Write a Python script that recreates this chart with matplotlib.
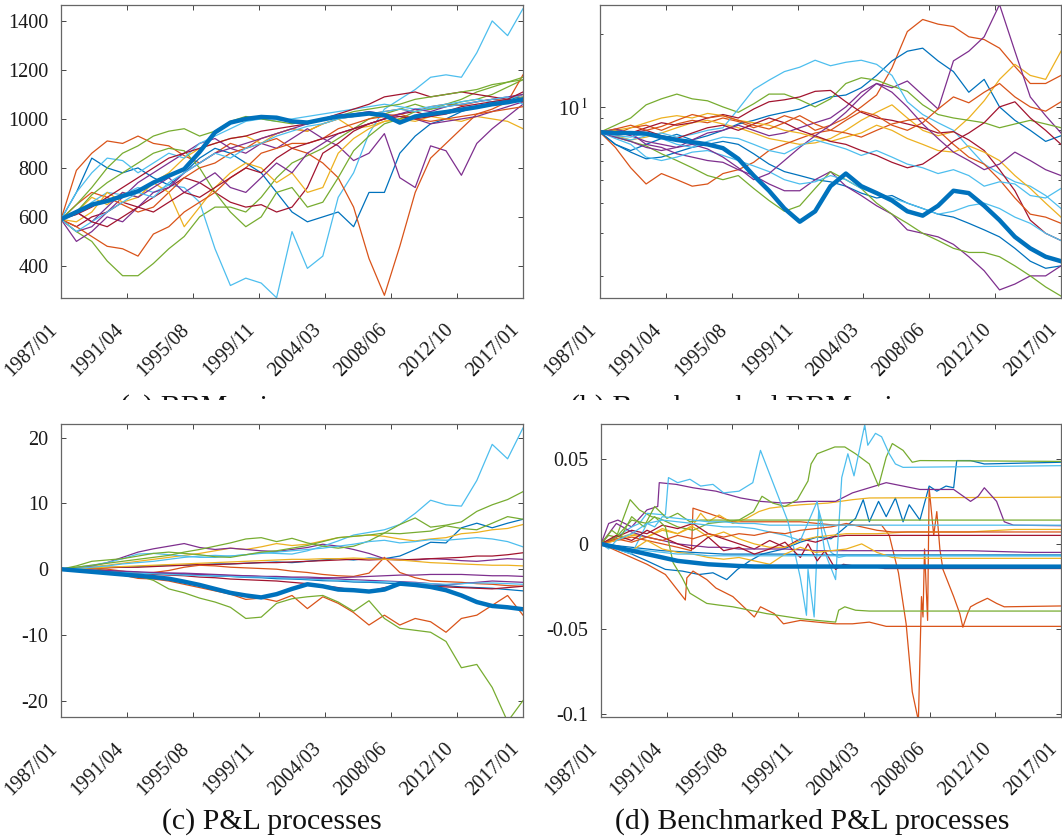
import matplotlib
matplotlib.use('Agg')
import matplotlib.pyplot as plt
from matplotlib.patches import Rectangle
from matplotlib.ticker import FixedLocator, FixedFormatter, NullFormatter
import numpy as np

plt.rcParams['font.family'] = ['Liberation Serif', 'DejaVu Serif']
plt.rcParams['mathtext.fontset'] = 'stix'
plt.rcParams['axes.unicode_minus'] = False

# ---------------- data ----------------
years = list(range(31))  # 1987/01 ... 2017/01, yearly samples
tick_labels = ['1987/01', '1991/04', '1995/08', '1999/11', '2004/03', '2008/06', '2012/10', '2017/01']

BLUE = '#0072BD'; ORANGE = '#D95319'; YELLOW = '#EDB120'; PURPLE = '#7E2F8E'
GREEN = '#77AC30'; LBLUE = '#4DBEEE'; DRED = '#A2142F'

# (a) BBM prices
a_thick = [590,620,650,665,685,705,740,768,795,865,945,985,1000,1008,1005,990,985,998,1010,1015,1022,1015,985,1010,1020,1028,1038,1048,1060,1068,1080]
a_lblue_dip = [590,610,660,700,690,720,700,730,720,660,470,320,350,330,270,540,390,440,680,780,940,1040,1080,1120,1170,1180,1170,1270,1400,1340,1450]
a_orange_dip = [590,650,700,680,650,620,640,700,760,800,820,860,880,900,920,880,860,820,760,640,430,280,480,700,840,900,960,1020,1040,1070,1180]
a_orange_top = [590,790,860,910,900,930,900,890,850,820,860,900,880,920,940,960,950,980,1000,1010,1020,1030,1040,1030,1050,1060,1055,1070,1080,1075,1100]
a_blue_dip = [590,700,840,800,780,800,760,730,780,840,880,860,820,780,700,620,580,600,620,560,700,700,860,930,980,1000,1030,1050,1060,1080,1090]
a_purple_dip = [590,540,560,620,680,740,780,820,860,900,920,880,860,900,880,920,960,920,890,830,860,940,760,720,890,870,770,900,960,1010,1060]
a_green_low = [590,540,500,420,360,360,410,470,520,600,640,640,620,680,760,820,850,880,920,960,1000,1020,1040,1060,1040,1050,1070,1080,1100,1130,1160]
a_green_mid = [590,620,690,740,780,820,860,880,870,800,700,620,560,600,700,720,640,660,760,870,930,980,1000,1030,1040,1060,1080,1110,1130,1150,1170]
a_green_top = [590,650,720,800,860,890,930,950,960,930,950,990,1010,1000,990,980,990,1000,1010,1030,1040,1050,1060,1080,1090,1100,1110,1120,1140,1150,1160]
a_dred_low = [590,560,600,620,660,640,680,720,760,740,700,660,640,650,620,640,720,860,900,950,980,1000,1020,1030,1010,1020,1040,1050,1060,1070,1080]
a_dred_top = [590,610,640,680,720,760,800,840,860,880,900,920,930,950,960,970,980,1000,1020,1040,1060,1090,1100,1110,1090,1100,1110,1100,1090,1080,1070]
a_dred_mid = [590,620,580,560,600,640,620,660,700,680,720,760,800,780,840,880,900,920,940,960,980,1000,1010,1000,1010,1030,1050,1060,1070,1080,1110]
a_yellow_top = [590,620,680,650,700,680,740,780,840,880,900,920,930,900,940,960,950,980,1000,960,970,990,1000,990,1010,1000,990,1010,1000,990,960]
a_yellow_low = [590,580,620,700,660,680,740,700,560,640,720,780,820,800,740,780,700,720,860,920,960,990,1000,1010,1020,1030,1040,1050,1060,1070,1090]
a_lblue_top = [590,700,780,840,830,780,820,860,840,900,930,960,990,1000,990,1000,1010,1020,1030,1040,1050,1060,1050,1040,1050,1060,1070,1080,1070,1080,1100]
a_lblue_low = [590,540,580,620,660,700,680,740,780,820,860,840,880,900,930,950,970,980,1000,1010,1020,1030,1040,1030,1045,1050,1060,1070,1080,1090,1060]
a_orange_low = [590,560,520,480,470,440,530,560,620,660,700,760,800,860,880,900,900,920,960,980,1000,1010,1020,1000,990,1000,1010,1020,1030,1040,1050]
a_purple_low = [590,500,540,600,580,640,700,720,780,820,860,880,900,920,940,960,980,1000,1010,1020,1030,1020,1010,1000,980,990,1000,1010,1030,1050,1070]
a_purple_mid = [590,620,580,640,700,680,720,760,700,740,780,720,700,760,820,780,860,900,940,960,980,1000,1020,1040,1030,1050,1060,1070,1080,1090,1100]

# (b) Benchmarked BBM prices
b_thick = [7.86,7.8,7.8,7.75,7.5,7.3,7.15,7.0,6.75,6.1,5.2,4.5,3.8,3.35,3.7,4.7,5.3,4.7,4.4,4.1,3.7,3.55,3.9,4.5,4.4,3.9,3.4,2.9,2.6,2.4,2.3]
b_lblue_top = [7.86,7.5,7.3,7.6,7.8,7.5,7.7,8.0,8.2,9.8,11.8,12.9,14.0,14.6,15.6,14.8,15.3,15.6,15.0,13.5,10.5,9.3,8.6,8.0,6.8,5.8,5.3,4.9,4.7,4.3,3.8]
b_orange_top = [7.86,7.7,8.2,8.4,8.0,8.5,8.8,8.6,9.0,8.7,8.2,8.6,9.2,8.8,8.0,8.4,9.0,10.0,11.2,14.5,20.5,23.0,22.0,21.5,19.5,19.0,17.5,14.7,12.5,12.5,13.5]
b_purple_top = [7.86,7.9,7.6,7.2,7.0,6.8,7.3,7.8,8.0,8.4,8.0,7.6,7.8,8.2,8.6,9.0,10.0,11.5,12.5,12.0,12.8,11.2,9.8,15.5,17.0,19.5,26.5,17.0,11.0,9.2,7.8]
b_blue_top = [7.86,7.0,6.6,7.0,7.4,7.7,7.3,7.6,8.0,8.5,8.8,9.2,9.5,9.8,10.4,11.0,11.2,12.0,13.5,15.5,17.0,17.5,15.5,14.0,11.5,13.0,10.0,8.8,8.0,7.2,7.6]
b_orange_low = [7.86,6.8,5.6,4.8,5.3,5.0,4.7,4.8,5.3,5.5,5.9,6.6,7.0,7.4,7.8,8.0,7.8,7.5,8.0,8.5,8.8,9.0,8.0,7.0,6.2,5.8,5.0,4.2,3.6,3.5,3.3]
b_purple_low = [7.86,8.1,7.8,7.0,6.8,6.4,6.2,6.0,5.9,5.5,5.2,4.8,4.5,4.5,5.0,5.4,4.7,4.3,3.9,3.6,3.1,3.0,2.9,2.7,2.4,2.1,1.75,1.85,2.0,2.0,2.2]
b_green_low = [7.86,7.5,7.2,6.9,6.4,6.0,5.6,5.2,5.0,5.2,4.6,4.1,3.7,3.9,4.6,5.4,5.0,4.6,4.0,3.6,3.3,3.0,2.8,2.6,2.5,2.5,2.4,2.2,2.0,1.8,1.65]
b_green_top = [7.86,8.4,9.0,10.2,10.8,11.3,10.8,10.6,10.0,9.5,10.3,11.3,11.3,10.7,10.0,10.8,12.5,13.2,12.9,12.2,11.6,10.2,9.3,9.0,8.8,8.6,8.2,8.5,8.8,8.5,8.2]
b_dred_1 = [7.86,8.0,7.8,8.2,8.6,8.4,8.6,9.0,9.3,9.0,9.8,10.5,10.7,11.0,11.6,11.7,10.5,9.5,9.0,8.8,8.5,8.2,7.8,7.9,7.3,6.6,5.5,4.5,3.4,3.0,2.8]
b_dred_2 = [7.86,7.6,7.8,8.0,7.6,7.4,7.8,8.2,8.4,8.0,8.5,9.0,8.6,8.0,7.6,7.2,7.0,6.6,6.3,5.9,5.6,5.8,6.4,7.2,7.8,8.6,10.0,10.5,9.0,8.0,7.0]
b_yellow_top = [7.86,7.6,7.3,7.5,7.8,8.2,8.6,8.8,8.5,8.2,7.8,7.4,7.2,7.0,7.1,7.4,8.0,8.8,9.5,10.2,9.0,8.0,7.6,7.9,9.0,10.6,13.0,15.0,13.5,13.0,17.0]
b_yellow_low = [7.86,8.0,8.2,8.6,9.0,9.2,9.0,9.4,9.2,8.8,8.6,8.4,8.0,7.8,7.5,7.2,7.5,7.8,8.4,8.0,7.4,7.0,6.6,6.5,6.9,6.5,6.0,5.2,4.6,4.0,3.5]
b_lblue_low = [7.86,7.4,7.0,6.2,6.0,6.2,6.5,6.6,6.3,6.0,5.7,5.4,5.0,4.8,4.9,5.2,5.0,4.6,4.4,4.2,4.0,3.8,3.6,3.7,3.9,4.0,3.8,3.5,3.3,3.0,2.8]
b_lblue_mid = [7.86,7.6,7.5,7.8,7.4,7.0,6.8,7.2,7.5,7.4,7.0,6.6,6.4,6.9,7.3,7.0,6.7,6.3,6.6,6.2,5.8,5.6,5.3,5.5,5.2,4.7,4.9,4.8,4.3,4.2,4.6]
b_blue_low = [7.86,7.0,6.5,6.1,6.2,6.5,6.8,7.0,7.2,7.0,6.4,5.8,5.4,5.2,5.0,4.9,4.7,4.4,4.2,4.3,4.0,3.8,3.6,3.5,3.3,3.1,2.9,2.6,2.3,2.15,2.2]
b_orange_mid = [7.86,8.1,8.4,8.0,8.3,8.8,9.3,9.0,9.2,8.8,8.4,8.1,8.6,9.2,8.5,8.0,8.8,9.6,9.2,8.4,8.0,8.6,9.8,11.0,10.4,11.5,12.5,11.0,10.0,9.6,10.5]
b_purple_mid = [7.86,7.5,7.2,6.8,6.6,6.8,7.0,6.7,6.2,5.6,5.0,5.3,6.0,6.8,7.6,8.4,9.5,11.0,12.5,11.5,10.0,8.5,7.4,6.5,6.0,5.5,5.8,6.5,6.0,5.5,5.2]

# (c) P&L processes
c_thick = [0,-0.2,-0.4,-0.6,-0.8,-1.0,-1.2,-1.45,-1.9,-2.4,-3.0,-3.6,-4.0,-4.3,-3.8,-3.0,-2.3,-2.6,-3.1,-3.2,-3.4,-3.1,-2.2,-2.4,-2.7,-3.2,-4.0,-5.0,-5.6,-5.8,-6.1]
c_lblue_top = [0,0.3,0.6,1.0,1.6,2.3,2.4,2.2,2.0,1.8,1.8,2.0,2.2,2.5,2.4,2.3,2.8,3.5,4.3,5.2,5.6,6.0,6.8,8.5,10.5,9.8,9.6,13.5,19.0,16.8,21.5]
c_green_low = [0,0.2,0.1,-0.2,-0.6,-1.0,-1.7,-3.0,-3.6,-4.4,-5.0,-5.8,-7.5,-7.3,-5.2,-4.5,-4.2,-4.0,-5.0,-6.4,-4.8,-7.5,-9.0,-9.3,-9.6,-11.0,-15.0,-14.5,-18.0,-23.2,-20.0]
c_orange_low = [0,-0.2,-0.4,-0.6,-0.9,-1.4,-1.5,-1.8,-2.3,-2.8,-3.3,-3.8,-4.6,-4.4,-4.9,-4.0,-6.0,-4.2,-5.2,-6.6,-8.5,-7.0,-8.5,-7.5,-8.0,-9.6,-7.5,-7.0,-5.5,-4.0,-7.0]
c_orange_mid = [0,0.1,0.2,0.0,-0.3,-0.6,-0.5,-0.2,0.3,0.6,0.5,0.3,0.2,0.1,0.0,-0.3,-0.5,-0.8,-1.0,-1.1,-0.6,1.8,-0.5,-1.3,-1.8,-1.9,-2.0,-2.2,-2.3,-2.5,-2.6]
c_green_top1 = [0,0.3,0.6,0.9,1.2,1.5,1.8,2.1,2.6,3.0,3.5,4.0,4.6,4.8,4.2,4.7,4.0,3.5,3.2,3.5,4.3,5.5,6.8,7.8,6.4,6.7,7.2,8.8,9.8,10.6,11.8]
c_green_top2 = [0,0.5,1.2,1.4,1.6,2.0,2.4,2.6,2.4,2.2,1.9,1.8,2.2,2.6,2.8,3.2,3.6,4.2,4.8,5.0,5.2,5.5,5.4,5.6,5.8,6.6,6.2,6.0,7.0,8.0,7.6]
c_blue_top = [0,0.1,0.2,0.3,0.3,0.4,0.5,0.6,0.6,0.7,0.8,0.8,0.9,1.0,1.1,1.0,1.2,1.4,1.6,1.4,1.7,1.6,2.0,3.0,4.1,4.0,6.3,7.0,6.3,7.0,7.6]
c_purple_top = [0,0.2,0.5,1.0,1.8,2.6,3.1,3.5,3.9,3.3,3.0,3.2,3.0,2.8,2.7,3.0,3.3,3.8,3.5,3.0,2.4,1.6,1.5,1.4,1.6,1.5,1.3,1.2,1.4,1.6,1.5]
c_yellow_top = [0,0.2,0.4,0.6,0.9,1.2,1.5,1.8,2.1,2.4,2.8,3.2,3.0,3.4,3.9,3.6,3.8,4.3,4.8,5.0,5.2,5.0,4.6,4.3,4.6,4.8,5.4,5.6,6.0,6.2,6.8]
c_lblue_2 = [0,0.1,0.3,0.5,0.8,1.0,1.2,1.5,1.8,2.0,2.1,2.0,2.2,2.4,2.6,2.8,3.0,3.2,3.5,3.8,4.2,4.4,4.0,4.2,4.5,4.4,4.6,4.8,4.6,4.2,3.4]
c_dred_1 = [0,0.1,0.2,0.2,0.3,0.3,0.4,0.5,0.6,0.7,0.7,0.8,0.9,1.0,1.0,1.1,1.2,1.3,1.4,1.5,1.4,1.5,1.4,1.5,1.6,1.7,1.8,2.0,2.0,2.2,2.5]
c_dred_2 = [0,-0.1,-0.2,-0.3,-0.4,-0.6,-0.8,-0.9,-1.0,-1.2,-1.3,-1.5,-1.6,-1.7,-1.8,-2.0,-2.2,-2.5,-2.8,-3.2,-3.4,-2.8,-2.4,-2.4,-2.6,-2.7,-2.8,-2.9,-3.0,-2.8,-2.6]
c_yellow_2 = [0,0.1,0.2,0.3,0.4,0.5,0.6,0.7,0.8,0.9,1.0,1.1,1.2,1.3,1.4,1.5,1.5,1.6,1.6,1.7,1.6,1.5,1.4,1.2,1.0,0.9,0.8,0.7,0.6,0.6,0.5]
c_purple_2 = [0,-0.1,-0.2,-0.3,-0.4,-0.5,-0.6,-0.6,-0.7,-0.8,-0.9,-1.0,-1.0,-1.1,-1.1,-1.2,-1.2,-1.3,-1.3,-1.2,-1.1,-1.0,-0.9,-0.9,-0.8,-0.8,-0.8,-0.9,-1.0,-1.0,-1.1]
c_purple_3 = [0,-0.1,-0.1,-0.2,-0.3,-0.4,-0.5,-0.6,-0.6,-0.7,-0.8,-0.9,-1.0,-1.1,-1.2,-1.3,-1.4,-1.4,-1.5,-1.6,-1.7,-1.8,-1.9,-2.0,-2.2,-2.4,-2.2,-2.0,-1.8,-1.9,-2.0]
c_lblue_3 = [0,-0.1,-0.3,-0.4,-0.5,-0.6,-0.7,-0.8,-0.9,-1.0,-1.0,-1.1,-1.2,-1.2,-1.3,-1.4,-1.5,-1.6,-1.7,-1.8,-1.9,-1.9,-2.0,-2.1,-2.2,-2.3,-2.2,-2.1,-2.1,-2.2,-2.3]
c_blue_2 = [0,-0.1,-0.25,-0.3,-0.45,-0.5,-0.65,-0.7,-0.85,-0.9,-1.05,-1.1,-1.25,-1.3,-1.45,-1.5,-1.6,-1.75,-1.8,-1.95,-2.0,-2.1,-2.25,-2.3,-2.45,-2.5,-2.7,-2.8,-2.9,-3.1,-3.3]

# (d) Benchmarked P&L processes  (time in years since 1987/01, value)
d_thick_t = [0,1,2,3,4,5,6,7,8,9,10,30]
d_thick_v = [0,-0.002,-0.004,-0.006,-0.008,-0.010,-0.011,-0.012,-0.0125,-0.013,-0.0133,-0.0134]
d_lblue_a_t = [0,1.0,2.0,2.5,3.0,4.2,4.4,5.0,5.8,6.5,7.3,8.0,9.0,9.9,10.4,11.3,12.2,13.0,13.4,13.5,13.9,14.2,14.5,15.0,15.5,16.0,17.0,30]
d_lblue_a_v = [0,0.004,0.010,0.012,0.018,0.017,0.039,0.036,0.038,0.034,0.035,0.030,0.031,0.036,0.055,0.034,0.013,-0.020,-0.042,-0.015,-0.043,0.020,0.010,-0.005,-0.008,-0.007,-0.007,-0.007]
d_lblue_b_t = [0,1,2,3,4,5,6,7,8,9,10,11,12,13,14.1,14.6,15.3,15.7,16.1,16.5,17.2,17.4,17.9,18.3,18.8,19.2,19.7,30]
d_lblue_b_v = [0,-0.003,-0.006,0.012,0.014,0.013,0.012,0.011,0.010,0.010,0.009,0.007,0.005,0.002,0.025,-0.005,-0.021,0.039,0.053,0.040,0.070,0.058,0.065,0.063,0.053,0.047,0.045,0.046]
d_lblue_c_t = [0,0.5,1.0,2.0,3.0,3.5,4.0,5.0,6.0,7.0,8.0,9.0,10.0,11.0,12.0,13.0,14.0,15.0,16.0,30]
d_lblue_c_v = [0,-0.003,0.002,0.006,0.012,0.010,0.016,0.015,0.014,0.013,0.013,0.012,0.012,0.011,0.011,0.011,0.011,0.011,0.011,0.011]
d_lblue_d_t = [0,1,2,3,4,5,6,7,8,9,10,11,12,13,14,30]
d_lblue_d_v = [0,-0.002,-0.003,-0.004,-0.005,-0.006,-0.006,-0.007,-0.007,-0.007,-0.007,-0.007,-0.007,-0.007,-0.007,-0.007]
d_green_top_t = [0,0.5,1.0,1.9,2.5,3.3,3.8,5.0,6.0,7.0,8.0,9.0,9.95,10.5,11.2,12.0,12.8,13.5,13.7,14.1,15.25,15.9,16.6,17.5,18.1,18.6,19.0,19.7,20.3,20.8,30]
d_green_top_v = [0,0.005,0.004,0.026,0.020,0.016,0.015,0.010,0.008,0.012,0.013,0.014,0.019,0.028,0.024,0.022,0.026,0.037,0.047,0.053,0.057,0.057,0.053,0.047,0.034,0.051,0.059,0.055,0.048,0.049,0.0485]
d_green_low_t = [0,1,2,3,3.5,4.2,4.7,5.3,5.8,6.9,7.7,8.6,10.8,13.0,14.1,15.3,15.5,15.9,16.6,17.5,30]
d_green_low_v = [0,0.004,0.014,0.012,0.016,0.010,-0.011,-0.020,-0.029,-0.035,-0.036,-0.037,-0.041,-0.044,-0.045,-0.046,-0.039,-0.037,-0.039,-0.0395,-0.0395]
d_green_mid_t = [0,0.7,1.3,2.0,2.8,3.5,4.3,5.0,5.8,6.5,7.5,30]
d_green_mid_v = [0,0.008,0.004,0.016,0.010,0.022,0.015,0.018,0.013,0.014,0.014,0.014]
d_purple_top_t = [0,0.5,1.1,2.0,3.0,3.7,3.8,4.9,6.0,7.5,9.1,10.4,11.9,13.5,15.3,16.4,17.5,18.6,19.7,20.8,21.9,23.0,24.1,24.6,25.0,25.8,26.3,26.9,30]
d_purple_top_v = [0,0.012,0.014,0.010,0.020,0.022,0.036,0.035,0.033,0.031,0.027,0.025,0.024,0.025,0.025,0.030,0.033,0.036,0.034,0.032,0.032,0.032,0.025,0.028,0.033,0.025,0.013,0.011,0.0107]
d_purple_low_t = [0,1,2,3,4,5,6,7,8,9,10,12,14,16,18,20,22,24,26,28,30]
d_purple_low_v = [0,0.012,0.007,0.004,0.002,0.000,-0.001,-0.002,-0.002,-0.003,-0.003,-0.003,-0.004,-0.004,-0.004,-0.004,-0.004,-0.004,-0.0045,-0.005,-0.005]
d_blue_t = [0,1,2,3,4.2,5.3,6.4,7.3,8.2,8.9,9.7,10.5,11.9,13.0,14.1,15.0,15.7,16.6,17.1,17.5,18.1,18.6,19.2,19.7,20.1,20.8,21.4,21.9,22.5,23.0,23.2,24.1,25.0,30]
d_blue_v = [0,-0.003,-0.006,-0.010,-0.015,-0.016,-0.018,-0.017,-0.021,-0.015,-0.010,-0.006,-0.003,0.001,0.004,0.003,0.008,0.015,0.026,0.013,0.025,0.016,0.027,0.013,0.023,0.014,0.034,0.031,0.034,0.033,0.049,0.049,0.047,0.048]
d_blue_2_t = [0,2,4,6,8,10,12,14,30]
d_blue_2_v = [0,-0.002,-0.004,-0.005,-0.006,-0.006,-0.006,-0.0065,-0.0065]
d_orange_crash_t = [0,1,2,3,4,5,5.9,6.0,7.0,8.6,10.8,13.0,15.3,17.5,18.3,18.8,19.4,19.9,20.3,20.7,20.8,20.9,21.0,21.1,21.3,21.4,21.7,21.9,22.1,22.3,23.0,23.4,23.6,23.9,24.1,24.5,25.2,25.8,26.3,30]
d_orange_crash_v = [0,0.002,0.004,0.002,0.000,-0.002,-0.004,0.021,0.018,0.013,0.013,0.013,0.011,0.011,0.011,0.005,-0.017,-0.047,-0.087,-0.104,-0.067,-0.031,-0.043,-0.003,-0.045,0.033,0.005,0.019,-0.003,-0.015,-0.031,-0.041,-0.049,-0.041,-0.037,-0.035,-0.032,-0.035,-0.037,-0.0365]
d_orange_low_t = [0,1,2,3,4.2,5.5,5.6,6.0,6.9,7.5,8.6,10.0,10.4,11.3,11.9,13.0,14.1,15.3,16.4,17.5,18.6,19.7,30]
d_orange_low_v = [0,-0.004,-0.008,-0.012,-0.018,-0.033,-0.020,-0.016,-0.021,-0.026,-0.031,-0.043,-0.037,-0.041,-0.047,-0.045,-0.046,-0.047,-0.047,-0.046,-0.0485,-0.0485,-0.0485]
d_orange_mid_t = [0,1,2,3,4,5,6,7,8,9,10,11,12,13,14,15,16,17,18,19,20,30]
d_orange_mid_v = [0,0.003,0.001,0.004,0.002,0.005,0.003,0.006,0.004,0.006,0.005,0.007,0.006,0.008,0.009,0.010,0.012,0.010,0.008,0.007,0.007,0.007]
d_yellow_top_t = [0,1,2,3,4,5,6,6.5,7.0,7.7,8.6,9.5,10.3,11.0,11.9,13.0,14.8,16.4,17.5,30]
d_yellow_top_v = [0,0.002,0.005,0.004,0.008,0.006,0.011,0.018,0.013,0.017,0.012,0.015,0.019,0.021,0.022,0.023,0.024,0.026,0.027,0.0275]
d_yellow_mid_t = [0,1,2,3,4,5,6,7,8,9,10,11,12,13,14,15,16,17,18,20,22,24,26,27,30]
d_yellow_mid_v = [0,0.003,0.006,0.004,0.009,0.006,0.010,0.004,0.007,0.003,0.000,-0.002,-0.002,0.002,0.004,0.005,0.006,0.006,0.006,0.007,0.007,0.007,0.008,0.0085,0.0085]
d_yellow_low_t = [0,1,2,3,4,5,6,7,8,9,10,11,12,13,14,15,16,17,18,19,19.7,30]
d_yellow_low_v = [0,-0.002,-0.004,0.002,-0.003,-0.005,-0.006,-0.008,-0.009,-0.008,-0.010,-0.012,-0.006,-0.002,-0.005,-0.004,-0.003,0.000,-0.005,-0.008,-0.0085,-0.0085]
d_dred_top_t = [0,1,2,3,4,5,6,7,8,9,10,11,12,13,14,15,16,17,18,30]
d_dred_top_v = [0,0.004,0.008,0.006,0.011,0.009,0.012,0.006,0.003,0.000,-0.003,0.002,-0.002,0.003,0.001,0.004,0.005,0.005,0.005,0.005]
d_dred_low_t = [0,1,2,3,4,5,6,7,8,9,10,11,12,13,13.5,14.1,14.6,15.3,15.8,16.5,17.5,18.5,30]
d_dred_low_v = [0,0.005,0.002,0.008,0.004,0.000,-0.003,0.004,-0.004,-0.002,-0.006,-0.003,0.001,-0.008,0.000,-0.010,-0.004,-0.015,-0.012,-0.013,-0.013,-0.0145,-0.0145]

# ---------------- figure ----------------
W, H = 1062, 838
fig = plt.figure(figsize=(W / 100, H / 100), dpi=100)


def add_ax(l, t, r, b):
    return fig.add_axes([l / W, 1 - b / H, (r - l) / W, (b - t) / H])


ax_a = add_ax(61, 5, 523, 298)
ax_b = add_ax(600, 5, 1061, 298)
ax_c = add_ax(61, 424, 523, 717)
ax_d = add_ax(601, 424, 1061, 717)

THIN = 0.9
THICK = 3.2
LABEL_SIZE = 14.5


def style(ax):
    ax.set_xlim(0, 30)
    ax.set_xticks(np.linspace(0, 30, 8))
    ax.set_xticklabels(tick_labels, rotation=45, ha='right', va='top')
    ax.tick_params(which='both', direction='in', top=True, right=True,
                   color='#444444', labelcolor='#1a1a1a', labelsize=LABEL_SIZE)
    ax.tick_params(which='major', length=3.6, width=0.7)
    ax.tick_params(which='minor', length=2.5, width=0.7)
    ax.tick_params(axis='x', pad=16)
    ax.tick_params(axis='y', pad=9)
    for s in ax.spines.values():
        s.set_color('#666666')
        s.set_linewidth(0.9)


# (a)
a_thin = [(a_orange_top, ORANGE), (a_blue_dip, BLUE), (a_yellow_top, YELLOW), (a_purple_dip, PURPLE),
          (a_green_low, GREEN), (a_lblue_dip, LBLUE), (a_dred_low, DRED), (a_orange_dip, ORANGE),
          (a_yellow_low, YELLOW), (a_purple_low, PURPLE), (a_green_mid, GREEN), (a_lblue_top, LBLUE),
          (a_dred_top, DRED), (a_orange_low, ORANGE), (a_purple_mid, PURPLE), (a_green_top, GREEN),
          (a_lblue_low, LBLUE), (a_dred_mid, DRED)]
for vals, col in a_thin:
    ax_a.plot(years, vals, color=col, lw=THIN)
ax_a.plot(years, a_thick, color=BLUE, lw=THICK)
ax_a.set_ylim(269, 1465)
ax_a.set_yticks([400, 600, 800, 1000, 1200, 1400])
style(ax_a)

# (b)
b_thin = [(b_orange_top, ORANGE), (b_blue_top, BLUE), (b_yellow_top, YELLOW), (b_purple_top, PURPLE),
          (b_green_top, GREEN), (b_lblue_top, LBLUE), (b_dred_1, DRED), (b_orange_low, ORANGE),
          (b_blue_low, BLUE), (b_yellow_low, YELLOW), (b_purple_low, PURPLE), (b_green_low, GREEN),
          (b_lblue_low, LBLUE), (b_dred_2, DRED), (b_orange_mid, ORANGE), (b_purple_mid, PURPLE),
          (b_lblue_mid, LBLUE)]
for vals, col in b_thin:
    ax_b.plot(years, vals, color=col, lw=THIN)
ax_b.plot(years, b_thick, color=BLUE, lw=THICK)
ax_b.set_yscale('log')
ax_b.set_ylim(1.62, 26.4)
ax_b.yaxis.set_major_locator(FixedLocator([10]))
ax_b.yaxis.set_major_formatter(FixedFormatter(['10$^{\\,1}$']))
ax_b.yaxis.set_minor_locator(FixedLocator([2, 3, 4, 5, 6, 7, 8, 9, 20]))
ax_b.yaxis.set_minor_formatter(NullFormatter())
style(ax_b)

# (c)
c_thin = [(c_orange_low, ORANGE), (c_blue_top, BLUE), (c_yellow_top, YELLOW), (c_purple_top, PURPLE),
          (c_green_low, GREEN), (c_lblue_top, LBLUE), (c_dred_1, DRED), (c_orange_mid, ORANGE),
          (c_blue_2, BLUE), (c_yellow_2, YELLOW), (c_purple_2, PURPLE), (c_green_top1, GREEN),
          (c_lblue_2, LBLUE), (c_dred_2, DRED), (c_purple_3, PURPLE), (c_green_top2, GREEN),
          (c_lblue_3, LBLUE)]
for vals, col in c_thin:
    ax_c.plot(years, vals, color=col, lw=THIN)
ax_c.plot(years, c_thick, color=BLUE, lw=THICK)
ax_c.set_ylim(-22.5, 22.1)
ax_c.set_yticks([-20, -10, 0, 10, 20])
style(ax_c)

# (d)
d_thin = [(d_orange_crash_t, d_orange_crash_v, ORANGE), (d_blue_t, d_blue_v, BLUE),
          (d_yellow_top_t, d_yellow_top_v, YELLOW), (d_purple_top_t, d_purple_top_v, PURPLE),
          (d_green_top_t, d_green_top_v, GREEN), (d_lblue_a_t, d_lblue_a_v, LBLUE),
          (d_dred_top_t, d_dred_top_v, DRED), (d_orange_low_t, d_orange_low_v, ORANGE),
          (d_blue_2_t, d_blue_2_v, BLUE), (d_yellow_mid_t, d_yellow_mid_v, YELLOW),
          (d_purple_low_t, d_purple_low_v, PURPLE), (d_green_low_t, d_green_low_v, GREEN),
          (d_lblue_b_t, d_lblue_b_v, LBLUE), (d_dred_low_t, d_dred_low_v, DRED),
          (d_orange_mid_t, d_orange_mid_v, ORANGE), (d_yellow_low_t, d_yellow_low_v, YELLOW),
          (d_green_mid_t, d_green_mid_v, GREEN), (d_lblue_c_t, d_lblue_c_v, LBLUE),
          (d_lblue_d_t, d_lblue_d_v, LBLUE)]
for t, vals, col in d_thin:
    ax_d.plot(t, vals, color=col, lw=THIN)
ax_d.plot(d_thick_t, d_thick_v, color=BLUE, lw=THICK)
ax_d.set_ylim(-0.1018, 0.0705)
ax_d.set_yticks([-0.1, -0.05, 0, 0.05])
ax_d.set_yticklabels(['-0.1', '-0.05', '0', '0.05'])
style(ax_d)

# captions (top ones are partly hidden by the lower panels, as in the source)
cap_kw = dict(ha='center', va='baseline', fontsize=21.5, color='#111111')
fig.text(213 / W, 1 - 415 / H, '(a) BBM prices', **cap_kw)
fig.text(750 / W, 1 - 415 / H, '(b) Benchmarked BBM prices', **cap_kw)
fig.add_artist(Rectangle((0, 1 - 423 / H), 1, 23 / H, transform=fig.transFigure,
                         facecolor='white', edgecolor='none', zorder=10))
fig.text(272 / W, 1 - 829 / H, '(c) P&L processes', **cap_kw)
fig.text(812 / W, 1 - 829 / H, '(d) Benchmarked P&L processes', **cap_kw)

fig.savefig('out.png', dpi=100)
